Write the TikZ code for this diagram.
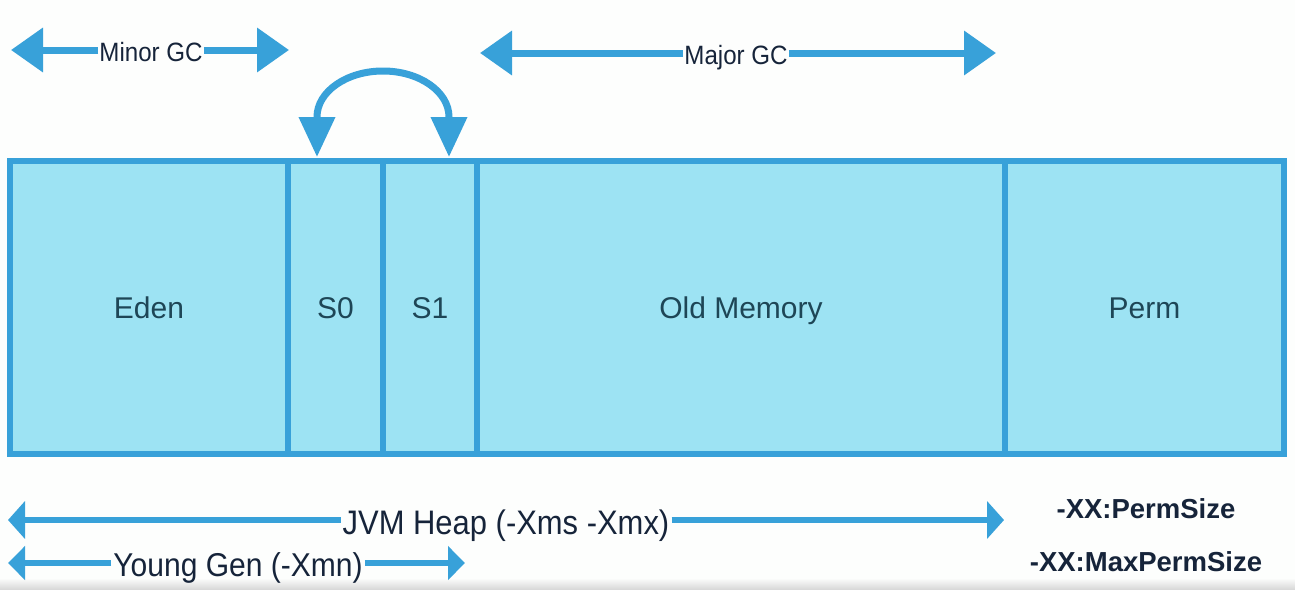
\documentclass[tikz,border=0pt]{standalone}
\usepackage{fontspec}
\setmainfont{Liberation Sans}
\newfontfamily\narrowsans{Liberation Sans}[FakeStretch=0.91]
\usetikzlibrary{arrows.meta}
\definecolor{gblue}{HTML}{38A1D9}
\definecolor{cellfill}{HTML}{9DE3F3}
\definecolor{celltext}{HTML}{1E4656}
\definecolor{lbltext}{HTML}{16243A}
\definecolor{bgcol}{HTML}{FDFEFD}
\tikzset{
  cell/.style={draw=gblue, fill=cellfill, line width=5.5pt, rectangle, inner sep=0pt,
    minimum height=293pt, text=celltext, font=\fontsize{30pt}{36pt}\selectfont,
    text height=21.5pt, text depth=0pt},
  gcline/.style={draw=gblue, line width=7pt},
  heapline/.style={draw=gblue, line width=6pt},
  gclbl/.style={inner xsep=1pt, inner ysep=0pt, anchor=base, text=lbltext, font=\narrowsans\fontsize{26.5pt}{31pt}\selectfont},
  heaplbl/.style={inner xsep=2pt, inner ysep=0pt, anchor=base, text=lbltext, font=\narrowsans\fontsize{34pt}{40pt}\selectfont},
  younglbl/.style={inner xsep=2pt, inner ysep=0pt, anchor=base, text=lbltext, font=\narrowsans\fontsize{33pt}{39pt}\selectfont},
  permlbl/.style={inner sep=0pt, anchor=base, text=lbltext, font=\bfseries\fontsize{27.5pt}{33pt}\selectfont},
  bigtip/.tip={Triangle[length=32pt,width=43pt]},
  swaptip/.tip={Triangle[length=40pt,width=35pt]},
  heaptip/.tip={Triangle[length=17pt,width=37pt]},
  youngtip/.tip={Triangle[length=17pt,width=33pt]},
}
\begin{document}
\begin{tikzpicture}[x=1pt,y=-1pt]
\useasboundingbox (0,0) rectangle (1295,589);
\fill[bgcol] (0,0) rectangle (1295,589);
\shade[top color=bgcol, bottom color=black!15] (0,578) rectangle (1295,589);

% memory compartments
\node[cell, minimum width=278pt] (eden) at (149,307.5) {Eden};
\node[cell, minimum width=95pt]  (s0)   at (335.5,307.5) {S0};
\node[cell, minimum width=94pt]  (s1)   at (430,307.5) {S1};
\node[cell, minimum width=528pt] (old)  at (741,307.5) {Old Memory};
\node[cell, minimum width=279pt] (perm) at (1144.5,307.5) {Perm};

% Minor GC
\node[gclbl] (minor) at (151,61) {Minor GC};
\coordinate (mnL) at (11,50);
\coordinate (mnR) at (289,50);
\draw[gcline, -bigtip] (minor.west |- mnL) -- (mnL);
\draw[gcline, -bigtip] (minor.east |- mnR) -- (mnR);

% Major GC
\node[gclbl] (major) at (736,64) {Major GC};
\coordinate (mjL) at (480,53);
\coordinate (mjR) at (996,53);
\draw[gcline, -bigtip] (major.west |- mjL) -- (mjL);
\draw[gcline, -bigtip] (major.east |- mjR) -- (mjR);

% survivor swap arrow
\coordinate (c0) at (317,157);
\coordinate (c1) at (449,157);
\draw[gcline, swaptip-swaptip] (c0) -- (317,117)
  .. controls (317,91.6) and (346.6,71) .. (383,71)
  .. controls (419.4,71) and (449,91.6) .. (449,117) -- (c1);

% JVM Heap
\node[heaplbl] (jvm) at (506,534.5) {JVM Heap (-Xms -Xmx)};
\coordinate (jvL) at (8,520);
\coordinate (jvR) at (1004,520);
\draw[heapline, -heaptip] (jvm.west |- jvL) -- (jvL);
\draw[heapline, -heaptip] (jvm.east |- jvR) -- (jvR);

% Young Gen
\node[younglbl] (young) at (238,576) {Young Gen (-Xmn)};
\coordinate (ygL) at (8,563);
\coordinate (ygR) at (465,563);
\draw[heapline, -youngtip] (young.west |- ygL) -- (ygL);
\draw[heapline, -youngtip] (young.east |- ygR) -- (ygR);

% Perm options
\node[permlbl] (psize) at (1146,518) {-XX:PermSize};
\node[permlbl] (pmax) at (1146,571) {-XX:MaxPermSize};
\end{tikzpicture}
\end{document}
